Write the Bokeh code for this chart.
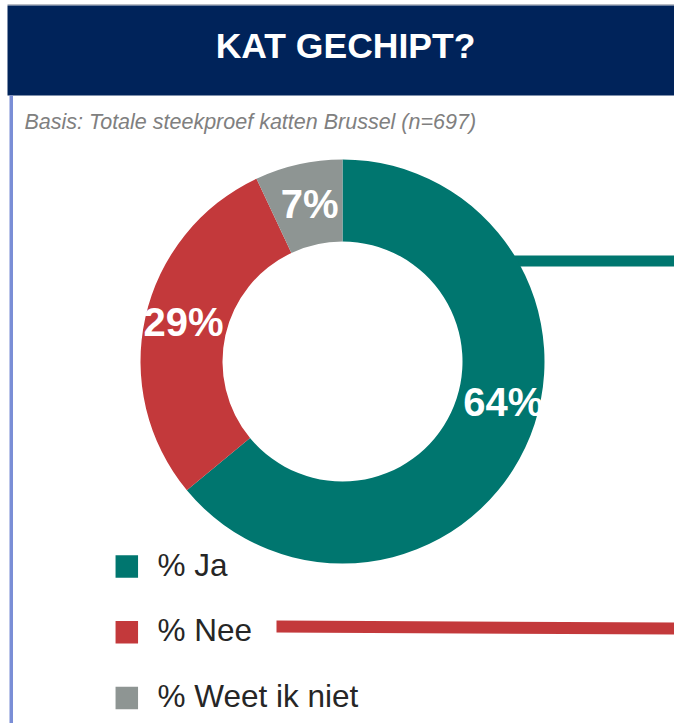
import math
from bokeh.plotting import figure
from bokeh.models import Range1d, ColumnDataSource
from bokeh.core.properties import value
from bokeh.embed import file_html
from bokeh.resources import INLINE

# ---- data ----
title = "KAT GECHIPT?"
subtitle = "Basis: Totale steekproef katten Brussel (n=697)"
categories = ["% Ja", "% Nee", "% Weet ik niet"]
percentages = [64, 29, 7]
colors = ["#00766F", "#C3393B", "#8E9593"]

# ---- layout (pixel-based coordinates) ----
W, H = 674, 723
FONT = value("Liberation Sans")
SHIFT = 0.4  # baseline correction as fraction of font size


def X(sx):
    return sx


def Y(sy):
    return H - sy


def YT(sy, size):
    return H - sy + SHIFT * size


p = figure(width=W, height=H, x_range=Range1d(0, W), y_range=Range1d(0, H),
           output_backend="svg", toolbar_location=None, min_border=0)
p.axis.visible = False
p.grid.visible = False
p.outline_line_color = None
p.background_fill_color = "white"
p.border_fill_color = "white"

# thin top rule and header band
p.quad(left=X(7), right=X(674), bottom=Y(5), top=Y(3.5), fill_color="#B8BCC4", line_color=None)
p.quad(left=X(7), right=X(674), bottom=Y(95), top=Y(5), fill_color="#00235A", line_color=None)
p.text(x=[X(345)], y=[YT(60, 35.5)], text=[title], text_font=FONT, text_font_style="bold",
       text_font_size="35.5px", text_color="white", text_align="center", text_baseline="alphabetic")

# left accent line
p.quad(left=X(9), right=X(12.5), bottom=Y(723), top=Y(95), fill_color="#7A8ED6", line_color=None)

# subtitle
p.text(x=[X(24)], y=[YT(130, 21.5)], text=[subtitle], text_font=FONT, text_font_style="italic",
       text_font_size="21.5px", text_color="#808080", text_align="left", text_baseline="alphabetic")

# decorative leader bars
p.quad(left=X(513), right=X(674), bottom=Y(266), top=Y(255), fill_color=colors[0], line_color=None)
p.patch(x=[X(276), X(674), X(674), X(276)], y=[Y(620), Y(622), Y(634), Y(632)],
        fill_color=colors[1], line_color=None)

# donut
cx, cy = X(342), Y(361)
r_out, r_in = 202, 120
total = sum(percentages)
starts, ends, mids = [], [], []
cum = 0
for v in percentages:
    a0 = math.pi / 2 - 2 * math.pi * cum / total
    cum += v
    a1 = math.pi / 2 - 2 * math.pi * cum / total
    starts.append(a0)
    ends.append(a1)
    mids.append((a0 + a1) / 2)

src = ColumnDataSource(dict(start=starts, end=ends, color=colors, cat=categories))
p.annular_wedge(x=cx, y=cy, inner_radius=r_in, outer_radius=r_out, start_angle="start",
                end_angle="end", direction="clock", fill_color="color", line_color=None, source=src)

# labels
label_shift_deg = [10.7, -0.8, -0.7]
label_r = [166, 163.5, 159.5]
lx, ly, lt = [], [], []
for m, s, r, v in zip(mids, label_shift_deg, label_r, percentages):
    a = m + math.radians(s)
    lx.append(cx + r * math.cos(a))
    ly.append(cy + r * math.sin(a) - 14.5 + SHIFT * 40)
    lt.append(f"{v}%")
p.text(x=lx, y=ly, text=lt, text_font=FONT, text_font_style="bold", text_font_size="40px",
       text_color="white", text_align="center", text_baseline="alphabetic")

# legend
row0, pitch = 566, 65.7
rows = [row0 + i * pitch for i in range(len(categories))]
p.rect(x=[X(126.3)] * len(categories), y=[Y(r) for r in rows], width=22.5, height=22.5,
       fill_color=colors, line_color=None)
p.text(x=[X(157)] * len(categories), y=[YT(r + 10.7, 31.5) for r in rows], text=categories,
       text_font=FONT, text_font_size="31.5px", text_color="#262626",
       text_align="left", text_baseline="alphabetic")

open("out.html", "w").write(file_html(p, INLINE))
